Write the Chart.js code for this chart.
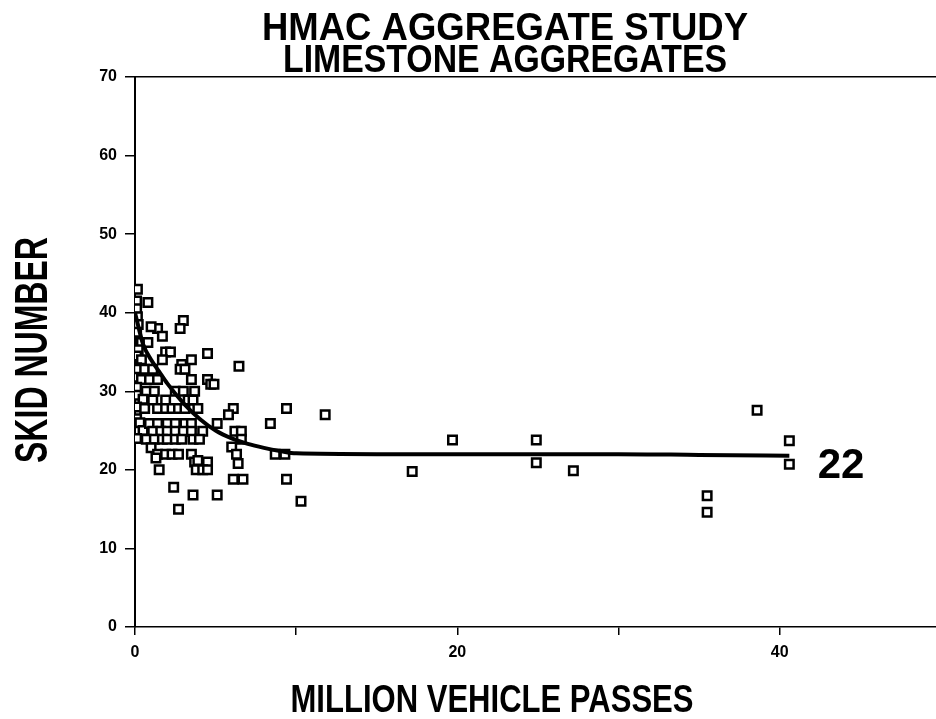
<!DOCTYPE html>
<html>
<head>
<meta charset="utf-8">
<script src="https://cdn.jsdelivr.net/npm/chart.js@4"></script>
<style>
  html, body { margin: 0; padding: 0; background: #fff; }
  #grafico { display: block; }
</style>
</head>
<body>
<canvas id="grafico" width="936" height="719"></canvas>
<script>
// Dados (milhões de passagens x número de atrito)
const passagens = [
    0.15, 0.1, 0.8, 0.1, 0.15, 0.2, 0.1, 0.4, 0.8, 0.2, 0.1, 0.4, 0.1, 0.2, 0.1, 0.4, 0.1, 0.7, 0.1, 0.5, 0.1, 0.6, 0.1, 0.3, 0.5, 0.1,
    1.4, 1.0, 1.7, 3.0, 2.8, 1.9, 2.2, 1.7, 3.5, 4.5, 2.9, 6.45,
    0.6, 1.1, 2.8, 3.1,
    0.9, 1.4, 3.5, 4.5,
    4.7, 4.9,
    1.2, 2.5, 3.0, 3.7,
    1.1, 1.9, 3.3, 3.6,
    1.4, 1.9, 2.3, 2.7, 3.1, 3.9, 6.1, 9.4,
    5.8, 11.8,
    0.9, 1.4, 2.0, 2.5, 3.1, 3.5, 5.1, 8.4,
    1.1, 1.6, 2.0, 2.5, 3.0, 3.5, 4.2, 6.2, 6.6,
    0.7, 1.2, 1.7, 2.0, 2.5, 2.9, 3.6, 4.0, 6.6,
    6.0, 1.0,
    1.4, 1.9, 2.3, 2.7, 3.5, 6.3, 8.7, 9.3,
    3.7, 4.5, 6.4, 3.9, 1.3,
    1.5, 3.8, 4.2, 4.5,
    6.1, 6.7, 9.4,
    2.4, 3.6, 5.1, 10.3, 2.7,
    17.2, 19.7, 24.9, 24.9, 27.2, 35.5, 35.5, 38.6, 40.6, 40.6
];
const atrito = [
    43, 41.5, 41.3, 40.5, 39.5, 38.5, 37.5, 36.2, 36.2, 35.3, 34.5, 34, 33, 32.8, 31.8, 31.5, 30.5, 30, 29.5, 29, 28, 27.8, 26.5, 26, 25, 24,
    38, 38.2, 37, 39, 38, 35, 35, 34, 34, 34.8, 33.4, 33.2,
    32.8, 32.8, 32.8, 32.8,
    31.5, 31.5, 31.5, 31.5,
    30.9, 30.9,
    30, 30, 30, 30,
    28.9, 28.9, 28.9, 28.9,
    27.8, 27.8, 27.8, 27.8, 27.8, 27.8, 27.8, 27.8,
    27, 27,
    25.9, 25.9, 25.9, 25.9, 25.9, 25.9, 25.9, 25.9,
    24.9, 24.9, 24.9, 24.9, 24.9, 24.9, 24.9, 24.9, 24.9,
    23.9, 23.9, 23.9, 23.9, 23.9, 23.9, 23.9, 23.9, 23.9,
    22.9, 22.8,
    22, 22, 22, 22, 22, 22, 22, 22,
    21, 21, 20.8, 21.2, 21.5,
    20, 20, 20, 20,
    18.8, 18.8, 18.8,
    17.8, 16.8, 16.8, 16, 15,
    19.8, 23.8, 23.8, 20.9, 19.9, 16.7, 14.6, 27.6, 23.7, 20.7
];

// Curva ajustada
const curvaX = [0, 0.5, 1, 1.5, 2, 3, 4, 5, 6, 7, 8, 9, 10, 15, 20, 25, 30, 35, 40.6];
const curvaY = [40, 36, 34, 32.5, 31, 28.5, 26.5, 25, 24, 23.3, 22.8, 22.4, 22.1, 22, 22, 22, 22, 21.9, 21.8];

// Ticks dos eixos
const ticksX = [0, 10, 20, 30, 40];
const rotulosX = [0, 20, 40];
const ticksY = [0, 10, 20, 30, 40, 50, 60, 70];

const pontos = passagens.map((x, i) => ({ x: x, y: atrito[i] }));
const curva = curvaX.map((x, i) => ({ x: x, y: curvaY[i] }));

// Textos desenhados sobre o canvas (largura ajustada para fonte condensada)
const textosPlugin = {
    id: 'textos',
    afterDraw(chart, args, opts) {
        const ctx = chart.ctx;
        opts.itens.forEach(t => {
            ctx.save();
            ctx.font = t.font;
            ctx.fillStyle = '#000';
            ctx.textAlign = 'center';
            ctx.textBaseline = 'alphabetic';
            const w = ctx.measureText(t.texto).width;
            const sx = t.largura ? t.largura / w : 1;
            ctx.translate(t.x, t.y);
            if (t.rot) ctx.rotate(t.rot);
            ctx.scale(sx, 1);
            ctx.fillText(t.texto, 0, 0);
            ctx.restore();
        });
    }
};

const fonteBase = "'Liberation Sans', Arial, sans-serif";

new Chart(document.getElementById("grafico"), {
    type: "scatter",
    data: {
        datasets: [
            {
                type: "line",
                data: curva,
                borderColor: "#000",
                borderWidth: 4,
                pointRadius: 0,
                fill: false,
                cubicInterpolationMode: "monotone"
            },
            {
                data: pontos,
                pointStyle: "rect",
                pointRadius: 6,
                pointBorderWidth: 2.5,
                pointBorderColor: "#000",
                pointBackgroundColor: "#fff"
            }
        ]
    },
    options: {
        responsive: false,
        animation: false,
        layout: { autoPadding: false, padding: { top: 77, left: 0, right: 0, bottom: 0 } },
        plugins: {
            legend: { display: false },
            tooltip: { enabled: false },
            textos: {
                itens: [
                    { texto: "HMAC AGGREGATE STUDY", x: 505, y: 40, largura: 486, font: "bold 39px " + fonteBase },
                    { texto: "LIMESTONE AGGREGATES", x: 505, y: 72, largura: 444, font: "bold 39px " + fonteBase },
                    { texto: "SKID NUMBER", x: 47, y: 350, rot: -Math.PI / 2, largura: 226, font: "bold 46px " + fonteBase },
                    { texto: "MILLION VEHICLE PASSES", x: 492, y: 712, largura: 403, font: "bold 39px " + fonteBase },
                    { texto: "22", x: 841, y: 478, font: "bold 42px " + fonteBase }
                ]
            }
        },
        scales: {
            x: {
                type: "linear",
                min: 0,
                max: 49.7,
                afterBuildTicks: s => { s.ticks = ticksX.map(v => ({ value: v })); },
                afterFit: s => { s.height = 92; },
                ticks: {
                    color: "#000",
                    padding: 8,
                    maxRotation: 0,
                    font: { family: fonteBase, size: 16, weight: "bold" },
                    callback: v => rotulosX.includes(v) ? String(v) : ""
                },
                grid: { display: true, drawOnChartArea: false, tickLength: 8, color: "#000", lineWidth: 1.5 },
                border: { display: true, color: "#000", width: 1.5 }
            },
            xTopo: {
                type: "linear",
                position: "top",
                min: 0,
                max: 49.7,
                afterFit: s => { s.height = 0; },
                ticks: { display: false },
                grid: { display: false, drawTicks: false },
                border: { display: true, color: "#000", width: 1.5 }
            },
            y: {
                min: 0,
                max: 70,
                afterBuildTicks: s => { s.ticks = ticksY.map(v => ({ value: v })); },
                afterFit: s => { s.width = 135; },
                ticks: {
                    color: "#000",
                    padding: 8,
                    font: { family: fonteBase, size: 16, weight: "bold" }
                },
                grid: { display: true, drawOnChartArea: false, tickLength: 10, color: "#000", lineWidth: 1.5 },
                border: { display: true, color: "#000", width: 2 }
            }
        }
    },
    plugins: [textosPlugin]
});
</script>
</body>
</html>
